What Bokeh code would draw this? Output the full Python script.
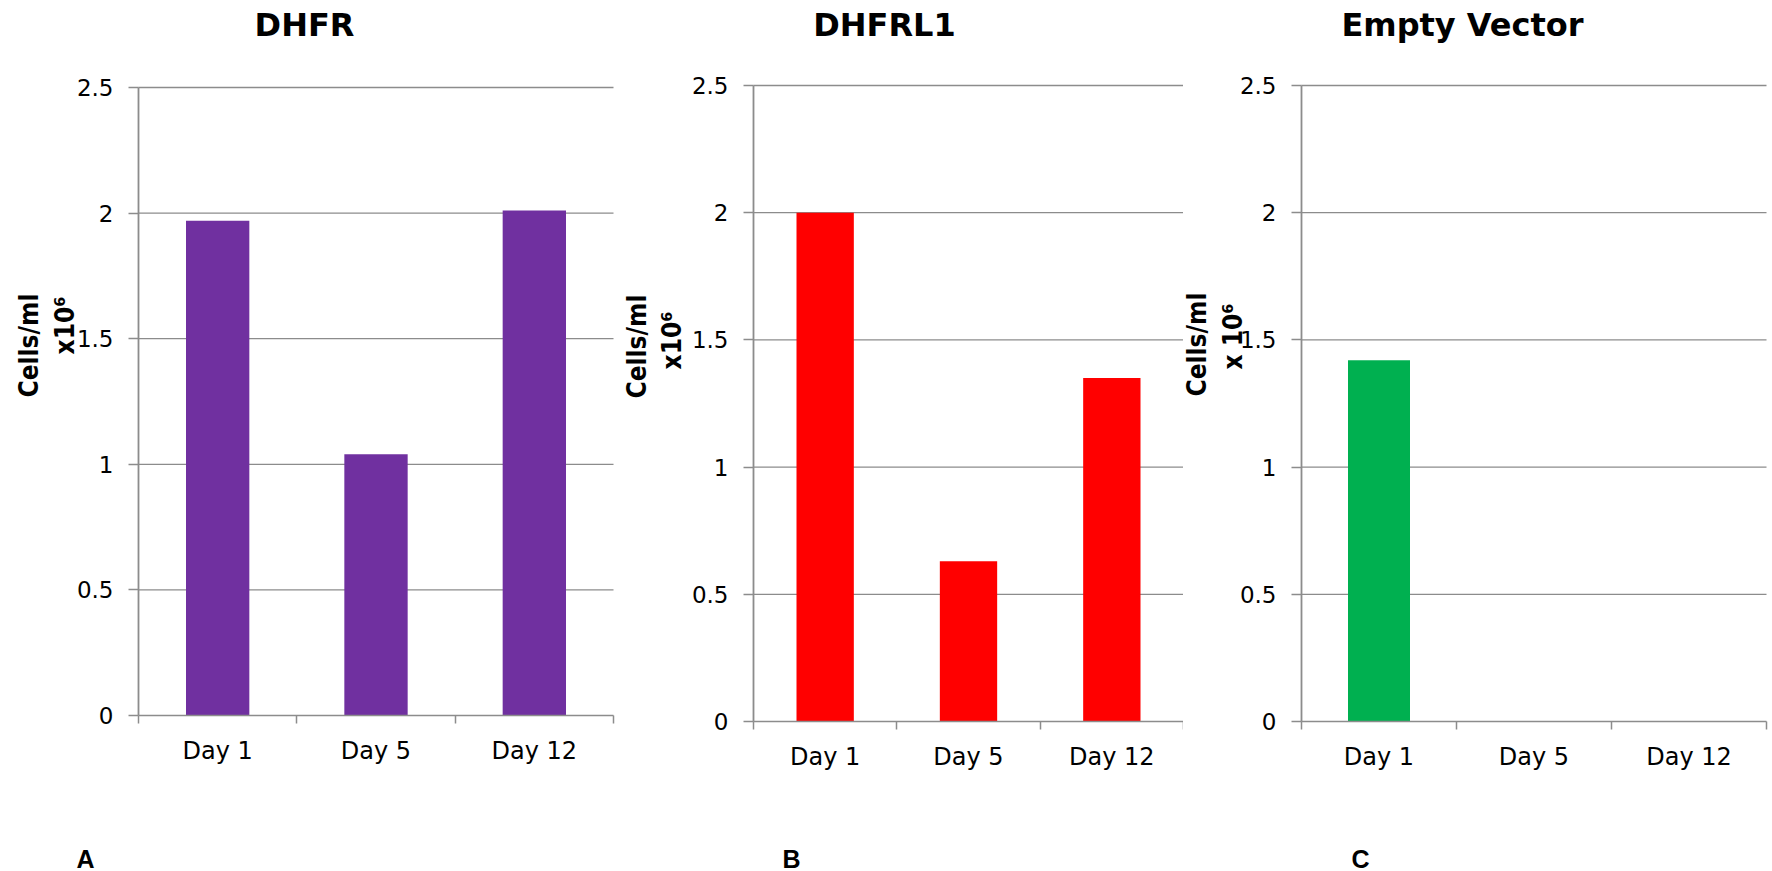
import math
from bokeh.plotting import figure
from bokeh.layouts import row
from bokeh.models import Range1d, FixedTicker, Label
from bokeh.embed import file_html
from bokeh.resources import INLINE

# ---- data ----
days = ["Day 1", "Day 5", "Day 12"]
dhfr = [1.97, 1.04, 2.01]
dhfrl1 = [2.00, 0.63, 1.35]
empty_vector = [1.42, 0.0, 0.0]
y_ticks = [0, 0.5, 1, 1.5, 2, 2.5]
y_tick_labels = ["0", "0.5", "1", "1.5", "2", "2.5"]
titles = ["DHFR", "DHFRL1", "Empty Vector"]
panel_letters = ["A", "B", "C"]
y_label_main = "Cells/ml"
y_label_exp = ["x10\u2076", "x10\u2076", "x 10\u2076"]
colors = ["#7030A0", "#FF0000", "#00B050"]

PAGE_H = 871
Y_MAX = 2.5
GRID = "#8c8c8c"
TICK_FONT = "DejaVu Sans"
BOLD_FONT = "DejaVu Sans"
NARROW_FONT = "Liberation Sans Narrow, DejaVu Sans Condensed, Roboto"

# page geometry of each panel: canvas left x0 / width w, plot area fl..fr, ft..fb
geoms = [
    dict(x0=0, w=616, fl=138, fr=613, ft=87, fb=715,
         title=(304, 24), letter=(85, 858), lab=(28, 345), exp=(64, 325)),
    dict(x0=616, w=567, fl=753, fr=1183, ft=85, fb=721,
         title=(884, 24), letter=(791, 858), lab=(636, 346), exp=(671, 340)),
    dict(x0=1183, w=589, fl=1301, fr=1766, ft=85, fb=721,
         title=(1462, 24), letter=(1360, 858), lab=(1196, 344), exp=(1232, 336)),
]


def add_text(p, g, X, Y, text, size, font=BOLD_FONT, style="normal", angle=0.0):
    p.add_layout(Label(
        x=X - g["x0"], y=PAGE_H - Y, x_units="screen", y_units="screen",
        text=text, text_font=font, text_font_size=f"{size}px", text_font_style=style,
        text_color="#000000", text_align="center", text_baseline="middle", angle=angle,
    ))


def make_panel(i, values):
    g = geoms[i]
    n = len(days)
    ppx = (g["fr"] - g["fl"]) / n
    ppy = (g["fb"] - g["ft"]) / Y_MAX
    xr = Range1d(-(g["fl"] - g["x0"]) / ppx, n + (g["x0"] + g["w"] - g["fr"]) / ppx)
    yr = Range1d(-(PAGE_H - g["fb"]) / ppy, Y_MAX + g["ft"] / ppy)
    p = figure(
        width=g["w"], height=PAGE_H, x_range=xr, y_range=yr,
        min_border=0, min_border_left=0, min_border_right=0,
        min_border_top=0, min_border_bottom=0,
        output_backend="svg", toolbar_location=None, tools="",
    )
    p.title.visible = False
    p.outline_line_color = None
    p.background_fill_color = "white"
    p.border_fill_color = "white"
    p.xgrid.visible = False
    p.ygrid.visible = False

    # horizontal gridlines at the y ticks (above zero), spanning the categories
    gy = [t for t in y_ticks if t > 0]
    p.segment(x0=[0] * len(gy), x1=[n] * len(gy), y0=gy, y1=gy,
              line_color=GRID, line_width=1.3)

    xs = [k + 0.5 for k in range(n)]
    p.vbar(x=xs, top=values, bottom=0, width=0.4, fill_color=colors[i], line_color=None)

    # x axis: labels at category centres, tick marks at category boundaries
    xa = p.xaxis[0]
    xa.fixed_location = 0
    xa.bounds = (0, n)
    xa.ticker = FixedTicker(ticks=xs, minor_ticks=list(range(n + 1)))
    xa.major_label_overrides = {x: d for x, d in zip(xs, days)}
    xa.major_tick_out = 0
    xa.major_tick_in = 0
    xa.minor_tick_out = 8
    xa.minor_tick_in = 0
    xa.minor_tick_line_color = GRID
    xa.minor_tick_line_width = 1.5
    xa.axis_line_color = GRID
    xa.axis_line_width = 1.5
    xa.major_label_text_font = TICK_FONT
    xa.major_label_text_font_size = "24px"
    xa.major_label_text_color = "#000000"
    xa.major_label_standoff = 13

    ya = p.yaxis[0]
    ya.fixed_location = 0
    ya.bounds = (0, Y_MAX)
    ya.ticker = FixedTicker(ticks=y_ticks, minor_ticks=[])
    ya.major_label_overrides = {t: s for t, s in zip(y_ticks, y_tick_labels)}
    ya.major_tick_out = 10
    ya.major_tick_in = 0
    ya.major_tick_line_color = GRID
    ya.major_tick_line_width = 1.3
    ya.axis_line_color = GRID
    ya.axis_line_width = 1.8
    ya.major_label_text_font = TICK_FONT
    ya.major_label_text_font_size = "23px"
    ya.major_label_text_color = "#000000"
    ya.major_label_standoff = 15

    add_text(p, g, *g["title"], titles[i], 32, style="bold")
    add_text(p, g, *g["letter"], panel_letters[i], 25, font="Liberation Sans", style="bold")
    add_text(p, g, *g["lab"], y_label_main, 26, font=NARROW_FONT, style="bold", angle=math.pi / 2)
    add_text(p, g, *g["exp"], y_label_exp[i], 26, font=NARROW_FONT, style="bold", angle=math.pi / 2)
    return p


panels = [make_panel(0, dhfr), make_panel(1, dhfrl1), make_panel(2, empty_vector)]
layout = row(*panels)
open("out.html", "w").write(file_html(layout, INLINE))
